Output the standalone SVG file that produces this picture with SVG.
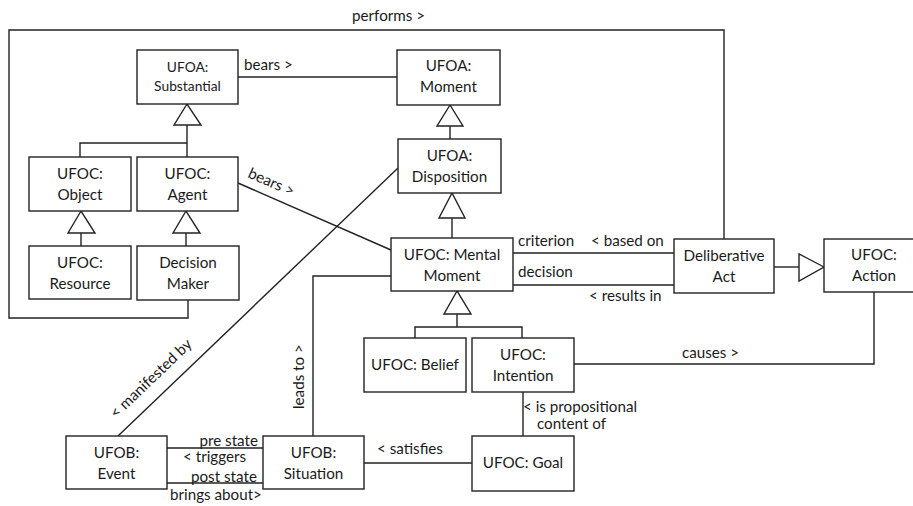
<svg xmlns="http://www.w3.org/2000/svg" width="913" height="506" viewBox="0 0 913 506">
<style>
.box{fill:#fff;stroke:#222;stroke-width:1.4}
.ln{fill:none;stroke:#222;stroke-width:1.4}
.tri{fill:#fff;stroke:#222;stroke-width:1.4;stroke-linejoin:miter}
text{font-family:Lato,"Liberation Sans",sans-serif;font-size:15.2px;fill:#1a1a1a}
.c{text-anchor:middle}
.s{font-size:13.8px}
.e{text-anchor:end}
</style>
<rect width="913" height="506" fill="#fff"/>
<g id="connectors">
<path class="ln" d="M188,300 V318 H9 V30 H724 V239"/>
<path class="ln" d="M238,77 H397"/>
<path class="ln" d="M187,125 V157 M80,157 V143 H187"/>
<polygon class="tri" points="187,104 174,125 201,125"/>
<path class="ln" d="M81,233 V246"/>
<polygon class="tri" points="81,211 68,233 95,233"/>
<path class="ln" d="M186,233 V246"/>
<polygon class="tri" points="186,211 173,233 200,233"/>
<path class="ln" d="M450,126 V139"/>
<polygon class="tri" points="450,105 437,126 463,126"/>
<path class="ln" d="M452,218 V238"/>
<polygon class="tri" points="452,193 439,218 465,218"/>
<path class="ln" d="M457,314 V327 M415,338 V327 H522 V338"/>
<polygon class="tri" points="457,291 444,314 471,314"/>
<path class="ln" d="M238,183 L391,250"/>
<path class="ln" d="M513,253 H674 M513,285 H674"/>
<path class="ln" d="M774,267 H799"/>
<polygon class="tri" points="824,267 799,254 799,281"/>
<path class="ln" d="M874,292 V364 H574"/>
<path class="ln" d="M523,392 V436"/>
<path class="ln" d="M364,463 H472"/>
<path class="ln" d="M167,448 H263 M167,483 H263"/>
<path class="ln" d="M313,436 V276 H391"/>
<path class="ln" d="M118,436 L398,168"/>
<text x="352" y="21">performs &gt;</text>
<text x="244" y="70">bears &gt;</text>
<text x="247" y="177" transform="rotate(23.6 247 177)">bears &gt;</text>
<text x="518" y="246">criterion</text>
<text x="591" y="246">&lt; based on</text>
<text x="518" y="277">decision</text>
<text x="589" y="301">&lt; results in</text>
<text x="682" y="358">causes &gt;</text>
<text x="523" y="412">&lt; is propositional</text>
<text x="537" y="429">content of</text>
<text x="377" y="454">&lt; satisfies</text>
<text x="258" y="446" class="e">pre state</text>
<text x="183" y="462">&lt; triggers</text>
<text x="191" y="482">post state</text>
<text x="170" y="500">brings about&gt;</text>
<text x="304" y="409" transform="rotate(-90 304 409)">leads to &gt;</text>
<text x="116" y="419" transform="rotate(-43.7 116 419)">&lt; manifested by</text>
</g>
<g id="substantial"><rect class="box" x="137" y="50" width="101" height="54"/><text class="c s" x="187.5" y="72">UFOA:</text><text class="c s" x="187.5" y="91">Substantial</text></g>
<g id="moment"><rect class="box" x="397" y="50" width="103" height="55"/><text class="c" x="448.5" y="71">UFOA:</text><text class="c" x="448.5" y="92">Moment</text></g>
<g id="disposition"><rect class="box" x="398" y="139" width="103" height="54"/><text class="c" x="449.5" y="161">UFOA:</text><text class="c" x="449.5" y="182">Disposition</text></g>
<g id="object"><rect class="box" x="29" y="157" width="102" height="54"/><text class="c" x="80" y="179">UFOC:</text><text class="c" x="80" y="200">Object</text></g>
<g id="agent"><rect class="box" x="137" y="157" width="101" height="54"/><text class="c" x="187.5" y="179">UFOC:</text><text class="c" x="187.5" y="200">Agent</text></g>
<g id="resource"><rect class="box" x="29" y="246" width="102" height="53"/><text class="c" x="80" y="268">UFOC:</text><text class="c" x="80" y="289">Resource</text></g>
<g id="decision-maker"><rect class="box" x="137" y="246" width="102" height="54"/><text class="c" x="188" y="268">Decision</text><text class="c" x="188" y="289">Maker</text></g>
<g id="mental-moment"><rect class="box" x="391" y="238" width="122" height="53"/><text class="c" x="452" y="260">UFOC: Mental</text><text class="c" x="452" y="281">Moment</text></g>
<g id="deliberative-act"><rect class="box" x="674" y="239" width="100" height="54"/><text class="c" x="724" y="261">Deliberative</text><text class="c" x="724" y="282">Act</text></g>
<g id="action"><rect class="box" x="824" y="239" width="100" height="53"/><text class="c" x="874" y="260">UFOC:</text><text class="c" x="874" y="281">Action</text></g>
<g id="belief"><rect class="box" x="364" y="338" width="102" height="54"/><text class="c" x="415" y="370">UFOC: Belief</text></g>
<g id="intention"><rect class="box" x="472" y="338" width="102" height="54"/><text class="c" x="523" y="360">UFOC:</text><text class="c" x="523" y="381">Intention</text></g>
<g id="goal"><rect class="box" x="472" y="436" width="102" height="55"/><text class="c" x="523" y="468">UFOC: Goal</text></g>
<g id="event"><rect class="box" x="66" y="436" width="101" height="53"/><text class="c" x="116.5" y="458">UFOB:</text><text class="c" x="116.5" y="479">Event</text></g>
<g id="situation"><rect class="box" x="263" y="436" width="101" height="53"/><text class="c" x="313.5" y="458">UFOB:</text><text class="c" x="313.5" y="479">Situation</text></g>
</svg>
